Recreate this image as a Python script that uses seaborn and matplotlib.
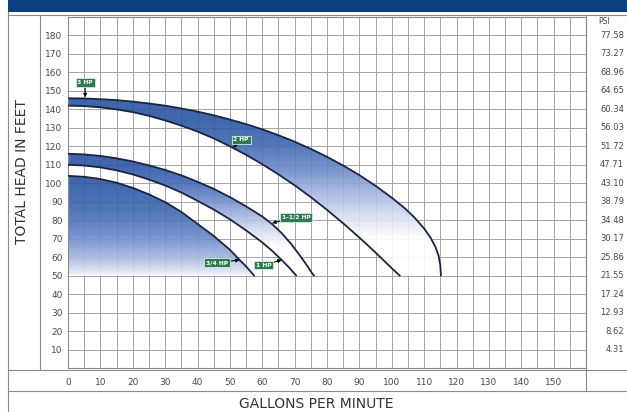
import numpy as np
import matplotlib
matplotlib.use("Agg")
import matplotlib.pyplot as plt
import matplotlib.transforms as mtransforms
import seaborn as sns
from matplotlib.colors import LinearSegmentedColormap
from matplotlib.patches import Polygon, Rectangle
from matplotlib.lines import Line2D
from matplotlib.ticker import MultipleLocator

# pump curves: gallons per minute vs total head in feet
gpm_3hp = [0, 5, 10, 15, 20, 25, 30, 35, 40, 45, 50, 55, 60, 65, 70, 75, 80, 85, 90,
           95, 100, 104, 107, 110, 112, 113.5, 114.5, 115, 115.2]
head_3hp = [146, 145.9, 145.5, 145, 144.2, 143.2, 142, 140.5, 138.8, 136.8, 134.5, 132,
            129.2, 126, 122.5, 118.6, 114.3, 109.6, 104.4, 98.6, 92.2, 86.5, 81.5, 75.5,
            70.5, 65.5, 60.5, 55.5, 50]
gpm_2hp = [0, 5, 10, 15, 20, 25, 30, 35, 40, 45, 50, 55, 60, 65, 70, 75, 80, 85, 90,
           95, 100, 102.5]
head_2hp = [142, 141.8, 141.1, 140, 138.5, 136.5, 134, 131.2, 128, 124.3, 120, 115.4,
            110.3, 104.8, 98.9, 92.5, 85.6, 78.3, 70.6, 62.5, 54, 50]
gpm_15hp = [0, 5, 10, 15, 20, 25, 30, 35, 40, 45, 50, 55, 60, 63, 66, 69, 72, 74, 75.5, 76]
head_15hp = [116, 115.6, 114.8, 113.5, 111.8, 109.7, 107.2, 104.3, 100.8, 97, 92.5, 87.5,
             82, 78, 73, 67, 60, 55, 51, 50]
gpm_1hp = [0, 5, 10, 15, 20, 25, 30, 35, 40, 45, 50, 55, 60, 63, 66, 68.5, 70.5]
head_1hp = [110, 109.6, 108.6, 107, 104.8, 102, 98.8, 95, 90.5, 85.8, 80.5, 74.5, 68,
            63.5, 58.5, 54, 50]
gpm_34hp = [0, 5, 10, 15, 20, 25, 30, 35, 40, 45, 50, 53, 55, 57, 57.5]
head_34hp = [104, 103.5, 102.3, 100.3, 97.5, 94, 89.8, 84.5, 78, 71.5, 64, 58.5, 55, 51, 50]

gpm_ticks = list(range(0, 151, 10))
head_ticks = list(range(10, 181, 10))
psi_labels = ["4.31", "8.62", "12.93", "17.24", "21.55", "25.86", "30.17", "34.48",
              "38.79", "43.10", "47.71", "51.72", "56.03", "60.34", "64.65", "68.96",
              "73.27", "77.58"]

hp_labels = ["3 HP", "2 HP", "1-1/2 HP", "1 HP", "3/4 HP"]
hp_text_pos = [(5.3, 154.5), (53.5, 123.5), (70.5, 81.6), (60.5, 55.7), (46, 57)]
hp_tip_pos = [(5.3, 146.5), (51, 119.3), (63, 78.5), (66, 58.5), (53, 58.5)]

sns.set_style("white")
plt.rcParams['font.family'] = ['DejaVu Sans']

line_col = "#1b2440"
grid_col = "#a4a4a4"
frame_col = "#8a8a8a"
text_col = "#4a4a4a"
band_cmap = LinearSegmentedColormap.from_list(
    "band", ["#ffffff", "#d3dbf0", "#9db1dd", "#6485c6", "#3d67b1", "#2a55a2"])

fig = plt.figure(figsize=(6.27, 4.12), dpi=100)
ax = fig.add_axes([68 / 627, 44 / 412, 518 / 627, 351 / 412])


def fill_gradient(xs, ys, lo, hi, gamma):
    poly = Polygon(np.column_stack([xs, ys]), closed=True, fc="none", ec="none")
    ax.add_patch(poly)
    yy = np.linspace(0, 190, 400)
    t = np.clip((yy - lo) / (hi - lo), 0, 1) ** gamma
    img = ax.imshow(t[::-1, None], extent=[0, 160, 0, 190], aspect="auto", alpha=0.9,
                    cmap=band_cmap, vmin=0, vmax=1, zorder=1, interpolation="bilinear")
    img.set_clip_path(poly)


# gradient bands between the curves
fill_gradient(gpm_3hp + gpm_2hp[::-1], head_3hp + head_2hp[::-1], 70, 135, 1.0)
fill_gradient(gpm_15hp + gpm_1hp[::-1], head_15hp + head_1hp[::-1], 66, 110, 1.0)
fill_gradient(gpm_34hp + [0], head_34hp + [50], 50, 102, 0.6)

for xs, ys in [(gpm_3hp, head_3hp), (gpm_2hp, head_2hp), (gpm_15hp, head_15hp),
               (gpm_1hp, head_1hp), (gpm_34hp, head_34hp)]:
    sns.lineplot(x=xs, y=ys, ax=ax, color=line_col, lw=1.3, sort=False,
                 estimator=None, zorder=3)

ax.set_xlim(0, 160)
ax.set_ylim(0, 190)
ax.set_xticks(gpm_ticks)
ax.set_xticklabels([str(v) for v in gpm_ticks])
ax.xaxis.set_minor_locator(MultipleLocator(5))
ax.set_yticks(head_ticks)
ax.set_yticklabels([str(v) for v in head_ticks])
ax.yaxis.set_minor_locator(MultipleLocator(10))
ax.grid(which="both", color=grid_col, lw=0.7, zorder=0)
ax.set_axisbelow(True)
ax.tick_params(axis="x", which="both", length=2.5, pad=5, color=frame_col,
               labelsize=6.5, labelcolor=text_col)
ax.tick_params(axis="y", which="both", length=3, pad=1, color=frame_col,
               labelsize=6.5, labelcolor=text_col)
for s in ax.spines.values():
    s.set_color(frame_col)
    s.set_linewidth(0.8)

# horsepower tags
for lab, pos, tip in zip(hp_labels, hp_text_pos, hp_tip_pos):
    ax.annotate(lab, xy=tip, xytext=pos, ha="center", va="center", fontsize=4.3,
                color="white", fontweight="bold", zorder=5,
                bbox=dict(boxstyle="square,pad=0.3", fc="#2f7a50", ec="#d5eadb", lw=0.6),
                arrowprops=dict(arrowstyle="-|>", color="black", lw=0.8,
                                mutation_scale=5, shrinkA=0, shrinkB=0))

# PSI scale on the right
tr = mtransforms.blended_transform_factory(fig.transFigure, ax.transData)
for h, p in zip(head_ticks, psi_labels):
    ax.text(624 / 627, h, p, transform=tr, ha="right", va="center",
            fontsize=6, color=text_col)
fig.text(604 / 627, 1 - 21 / 412, "PSI", ha="center", va="center", fontsize=5.5,
         color=text_col)

# frame and header
fig.patches.append(Rectangle((8 / 627, 1 - 12 / 412), 1, 12 / 412,
                             transform=fig.transFigure, fc="#0b3f80", ec="none"))


def fline(x0, y0, x1, y1):
    fig.add_artist(Line2D([x0 / 627, x1 / 627], [1 - y0 / 412, 1 - y1 / 412],
                          transform=fig.transFigure, color=frame_col, lw=0.8))


fline(8, 12, 8, 412)
fline(8, 15, 627, 15)
fline(40, 15, 40, 370)
fline(8, 370, 627, 370)
fline(8, 391, 627, 391)
fline(586, 15, 586, 391)

fig.text(22 / 627, 1 - 172 / 412, "TOTAL HEAD IN FEET", rotation=90, ha="center",
         va="center", fontsize=10, color="#333333")
fig.text(316 / 627, 1 - 404 / 412, "GALLONS PER MINUTE", ha="center", va="center",
         fontsize=10, color="#333333")

fig.savefig("out.png", dpi=100)
